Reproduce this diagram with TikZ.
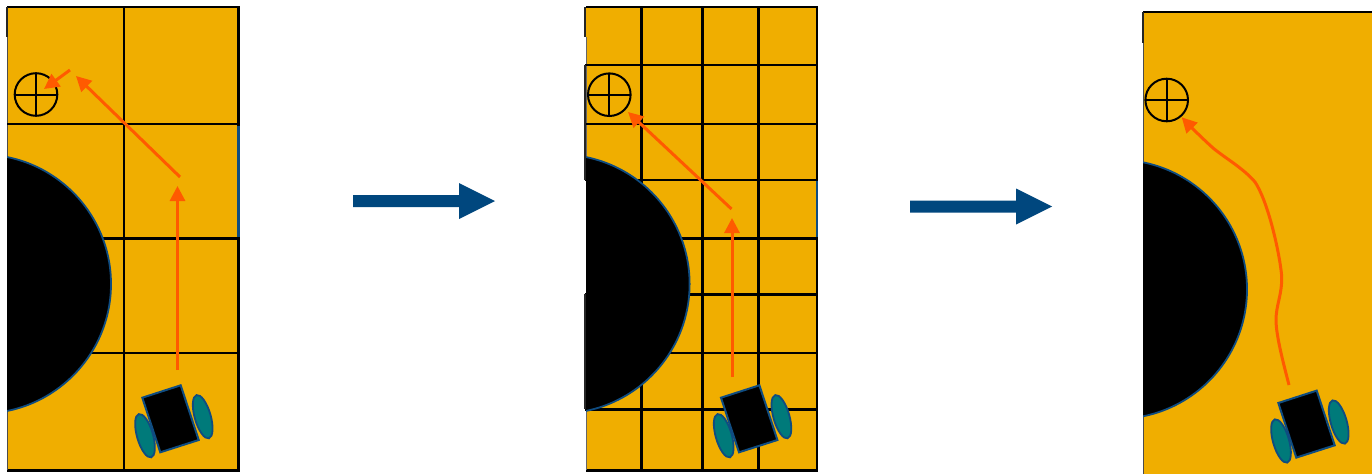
\documentclass[tikz,border=0pt]{standalone}
\usetikzlibrary{arrows.meta}
\definecolor{fieldc}{HTML}{F0AE00}
\definecolor{pathc}{HTML}{FF5A00}
\definecolor{edgec}{HTML}{0F4C81}
\definecolor{wheelc}{HTML}{007A7A}
\definecolor{bigc}{HTML}{00477E}
\tikzset{
  field/.style={fill=fieldc,draw=none},
  gridline/.style={draw=black,line width=2.4pt},
  stub/.style={draw=black!85,line width=2pt},
  obstacle/.style={fill=black,draw=edgec,line width=1.8pt},
  goalmark/.style={draw=black,line width=2pt},
  pathline/.style={draw=pathc,line width=3pt,-{Triangle[width=15pt,length=15pt]}},
  wheel/.style={fill=wheelc,draw=edgec,line width=1.8pt},
  chassis/.style={fill=black,draw=edgec,line width=2pt},
  bigarrow/.style={fill=bigc,draw=none}
}
% robot: #1 shift
\newcommand{\robotat}[1]{%
  \begin{scope}[shift={(#1)}]
    \draw[wheel,rotate around={16:(145,435.7)}] (145,435.7) ellipse [x radius=8,y radius=22.5];
    \draw[wheel,rotate around={16:(202.7,416.7)}] (202.7,416.7) ellipse [x radius=8,y radius=22.5];
    \draw[chassis] (142.3,397.7) -- (180.7,385.3) -- (198.7,440) -- (160.3,452.3) -- cycle;
  \end{scope}}
\newcommand{\goalat}[2]{%
  \draw[goalmark] (#1,#2) circle (21.3);
  \draw[goalmark] (#1-21.3,#2) -- (#1+21.3,#2) (#1,#2-21.3) -- (#1,#2+21.3);}
\newcommand{\bigarrowat}[2]{%
  \fill[bigarrow] (#1,#2-6) -- (#1+106,#2-6) -- (#1+106,#2-18) -- (#1+142,#2) -- (#1+106,#2+18) -- (#1+106,#2+6) -- (#1,#2+6) -- cycle;}
\begin{document}
\begin{tikzpicture}[x=1pt,y=-1pt]
\useasboundingbox (0,0) rectangle (1372,474);
% ---- panel 1
\fill[field] (7,7) rectangle (238.5,470.5);
\draw[gridline] (7,7) -- (238.5,7) -- (238.5,470.5) -- (7,470.5);
\draw[stub] (6.5,7) -- (6.5,37);
\draw[draw=black!70,line width=1pt] (7,37) -- (7,157) (7,411) -- (7,470);
\draw[gridline] (124,7) -- (124,470.5);
\draw[gridline] (7,124) -- (238.5,124) (7,238.5) -- (238.5,238.5) (7,353) -- (238.5,353);
\draw[draw=edgec,line width=2.2pt] (238.5,125.5) -- (238.5,237);
\begin{scope}
  \clip (7,0) rectangle (300,474);
  \draw[obstacle] (-18.5,284) circle (129.5);
\end{scope}
\goalat{36}{94.5}
\coordinate (a1) at (177.5,370); \coordinate (a2) at (177.5,186);
\coordinate (b1) at (180,177); \coordinate (b2) at (76,76);
\coordinate (c1) at (70,70); \coordinate (c2) at (44,89);
\draw[pathline] (a1) -- (a2);
\draw[pathline] (b1) -- (b2);
\draw[pathline] (c1) -- (c2);
\robotat{0,0}
% ---- big arrow 1
\bigarrowat{353}{201}
% ---- panel 2
\fill[field] (586,7) rectangle (817,470.5);
\draw[gridline] (586,7) -- (817,7) -- (817,470.5) -- (586,470.5);
\draw[draw=black!60,line width=1pt] (586,37) -- (586,470);
\draw[gridline] (641.3,7) -- (641.3,470.5) (702.3,7) -- (702.3,470.5) (758.3,7) -- (758.3,470.5);
\draw[gridline] (585,65) -- (817,65) (586,124) -- (817,124) (585,180) -- (817,180)
  (586,238.5) -- (817,238.5) (585,294.3) -- (817,294.3) (586,353) -- (817,353) (585,409.3) -- (817,409.3);
\draw[stub] (585.4,7) -- (585.4,37) (585.4,65) -- (585.4,180) (585.4,294) -- (585.4,409);
\draw[draw=edgec,line width=2.2pt] (817,181) -- (817,237);
\begin{scope}
  \clip (586,0) rectangle (900,474);
  \draw[obstacle] (560.1,284) circle (129.5);
\end{scope}
\goalat{609.3}{94.7}
\coordinate (d1) at (732,377); \coordinate (d2) at (732,218);
\coordinate (e1) at (731.5,209); \coordinate (e2) at (628,112);
\draw[pathline] (d1) -- (d2);
\draw[pathline] (e1) -- (e2);
\robotat{578.7,0}
% ---- big arrow 2
\bigarrowat{910}{206.5}
% ---- panel 3
\fill[field] (1143,12) rectangle (1372,474);
\draw[gridline] (1143,12) -- (1372,12);
\draw[stub] (1142.6,12) -- (1142.6,43);
\draw[draw=black!70,line width=1pt] (1143.4,43) -- (1143.4,162) (1143.4,416) -- (1143.4,474);
\begin{scope}
  \clip (1143,0) rectangle (1372,474);
  \draw[obstacle] (1117.5,289.3) circle (129.5);
\end{scope}
\goalat{1166.7}{100}
\coordinate (f1) at (1289,385); \coordinate (f2) at (1181.7,117.3);
\draw[pathline] (f1) .. controls (1283,362) and (1276,335) .. (1276,320)
  .. controls (1276,305) and (1282,295) .. (1281.7,277)
  .. controls (1281,262) and (1270,205) .. (1255,182)
  .. controls (1243,168) and (1225,158) .. (1213,148)
  .. controls (1203,139) and (1192,128) .. (f2);
\robotat{1136,5.3}
\end{tikzpicture}
\end{document}
